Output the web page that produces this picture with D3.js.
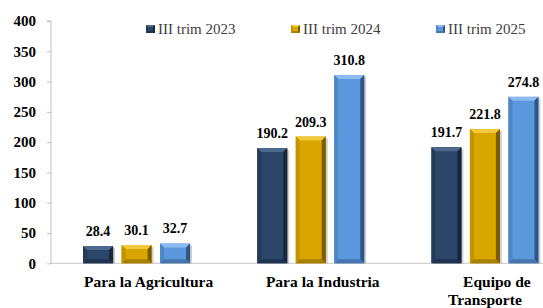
<!DOCTYPE html>
<html>
<head>
<meta charset="utf-8">
<script src="https://cdn.jsdelivr.net/npm/d3@7"></script>
<style>
  html, body { margin: 0; padding: 0; background: #fff; }
  svg { display: block; font-family: "Liberation Serif", "DejaVu Serif", serif; }
</style>
</head>
<body>
<div id="chart"></div>
<script>
'use strict';

const categories = ["Para la Agricultura", "Para la Industria", "Equipo de Transporte"];
const series = ["III trim 2023", "III trim 2024", "III trim 2025"];
const values2023 = [28.4, 190.2, 191.7];
const values2024 = [30.1, 209.3, 221.8];
const values2025 = [32.7, 310.8, 274.8];
const yTicks = [0, 50, 100, 150, 200, 250, 300, 350, 400];

const seriesValues = [values2023, values2024, values2025];
const palette = [
    {base: "#2b4668", top: "#4d6a8e", left: "#243c5a", right: "#16263b", bottom: "#1e3350"},
    {base: "#d9a600", top: "#f2c93a", left: "#c29400", right: "#7a5c00", bottom: "#a88000"},
    {base: "#5b97dd", top: "#8bbbf0", left: "#4f86c6", right: "#2f5684", bottom: "#4675ad"}
];

const width = 543, height = 308;
const margins = {top: 21, bottom: 45, left: 51, right: 0};

const svg = d3.select('#chart').append('svg')
    .attr('width', width)
    .attr('height', height);

const yScale = d3.scaleLinear()
    .domain([0, 400])
    .range([height - margins.bottom + 0.3, margins.top]);

const x0 = d3.scaleBand()
    .domain(categories)
    .range([49.5, 572])
    .padding(0);

const x1 = d3.scaleBand()
    .domain(series)
    .range([-53.5, 53.5])
    .paddingInner(0.22)
    .paddingOuter(0);

// y axis
const yAxis = d3.axisLeft(yScale).tickValues(yTicks).tickSize(4).tickPadding(11);
const yAxisGroup = svg.append('g')
    .attr('class', 'yAxis')
    .attr('transform', 'translate(' + margins.left + ',0)')
    .call(yAxis);
yAxisGroup.select('.domain').attr('stroke', '#bfbfbf').attr('d', 'M-4,' + yScale(400) + 'H0V' + yScale(0));
yAxisGroup.selectAll('.tick line').attr('stroke', '#bfbfbf');
yAxisGroup.selectAll('.tick text')
    .attr('fill', '#000')
    .style('font-size', '15px')
    .style('font-weight', 'bold')
    .style('font-family', '"Liberation Serif", serif');

// baseline
svg.append('line')
    .attr('x1', margins.left).attr('x2', width)
    .attr('y1', yScale(0)).attr('y2', yScale(0))
    .attr('stroke', '#c8c8c8').attr('stroke-width', 1);

// bevelled bars
function bevelBar (g, x, y, w, h, c, b)
{
    b = Math.min(b, h / 2, w / 2);
    g.append('rect').attr('x', x).attr('y', y).attr('width', w).attr('height', h).attr('fill', c.base);
    g.append('polygon').attr('fill', c.top)
        .attr('points', [[x, y], [x + w, y], [x + w - b, y + b], [x + b, y + b]].join(' '));
    g.append('polygon').attr('fill', c.left)
        .attr('points', [[x, y], [x + b, y + b], [x + b, y + h - b], [x, y + h]].join(' '));
    g.append('polygon').attr('fill', c.right)
        .attr('points', [[x + w, y], [x + w, y + h], [x + w - b, y + h - b], [x + w - b, y + b]].join(' '));
    g.append('polygon').attr('fill', c.bottom)
        .attr('points', [[x, y + h], [x + b, y + h - b], [x + w - b, y + h - b], [x + w, y + h]].join(' '));
}

const chart = svg.append('g').attr('class', 'bars');

categories.forEach((cat, ci) => {
    const cx = x0(cat) + x0.bandwidth() / 2;
    series.forEach((s, si) => {
        const v = seriesValues[si][ci];
        const bx = cx + x1(s);
        const by = yScale(v);
        const bh = yScale(0) - by;
        const g = chart.append('g');
        // soft shadow on the right
        g.append('rect')
            .attr('x', bx + 2).attr('y', by + 2)
            .attr('width', x1.bandwidth()).attr('height', bh - 2)
            .attr('fill', '#000').attr('opacity', 0.18);
        bevelBar(g, bx, by, x1.bandwidth(), bh, palette[si], 4);

        chart.append('text')
            .attr('x', bx + x1.bandwidth() / 2)
            .attr('y', by - 10)
            .attr('text-anchor', 'middle')
            .style('font-size', '14px')
            .style('font-weight', 'bold')
            .text(d3.format('.1f')(v));
    });
});

// category labels (wrapped like the original)
const catLines = [["Para la Agricultura"], ["Para la Industria"], ["Equipo de", "Transporte"]];
categories.forEach((cat, ci) => {
    const cx = x0(cat) + x0.bandwidth() / 2;
    const t = svg.append('text')
        .attr('text-anchor', 'middle')
        .style('font-size', '15.5px')
        .style('font-weight', 'bold');
    catLines[ci].forEach((line, li) => {
        t.append('tspan')
            .attr('x', cx + (li === 0 ? 12 : 0))
            .attr('y', 287 + li * 18)
            .text(line);
    });
});

// legend
const legend = svg.append('g').attr('class', 'legend');
series.forEach((s, i) => {
    const lx = 146 + i * 145;
    const g = legend.append('g');
    bevelBar(g, lx, 25, 9, 8, palette[i], 2);
    legend.append('text')
        .attr('x', lx + 12)
        .attr('y', 34)
        .attr('fill', '#404040')
        .style('font-size', '15px')
        .text(s);
});
</script>
</body>
</html>
